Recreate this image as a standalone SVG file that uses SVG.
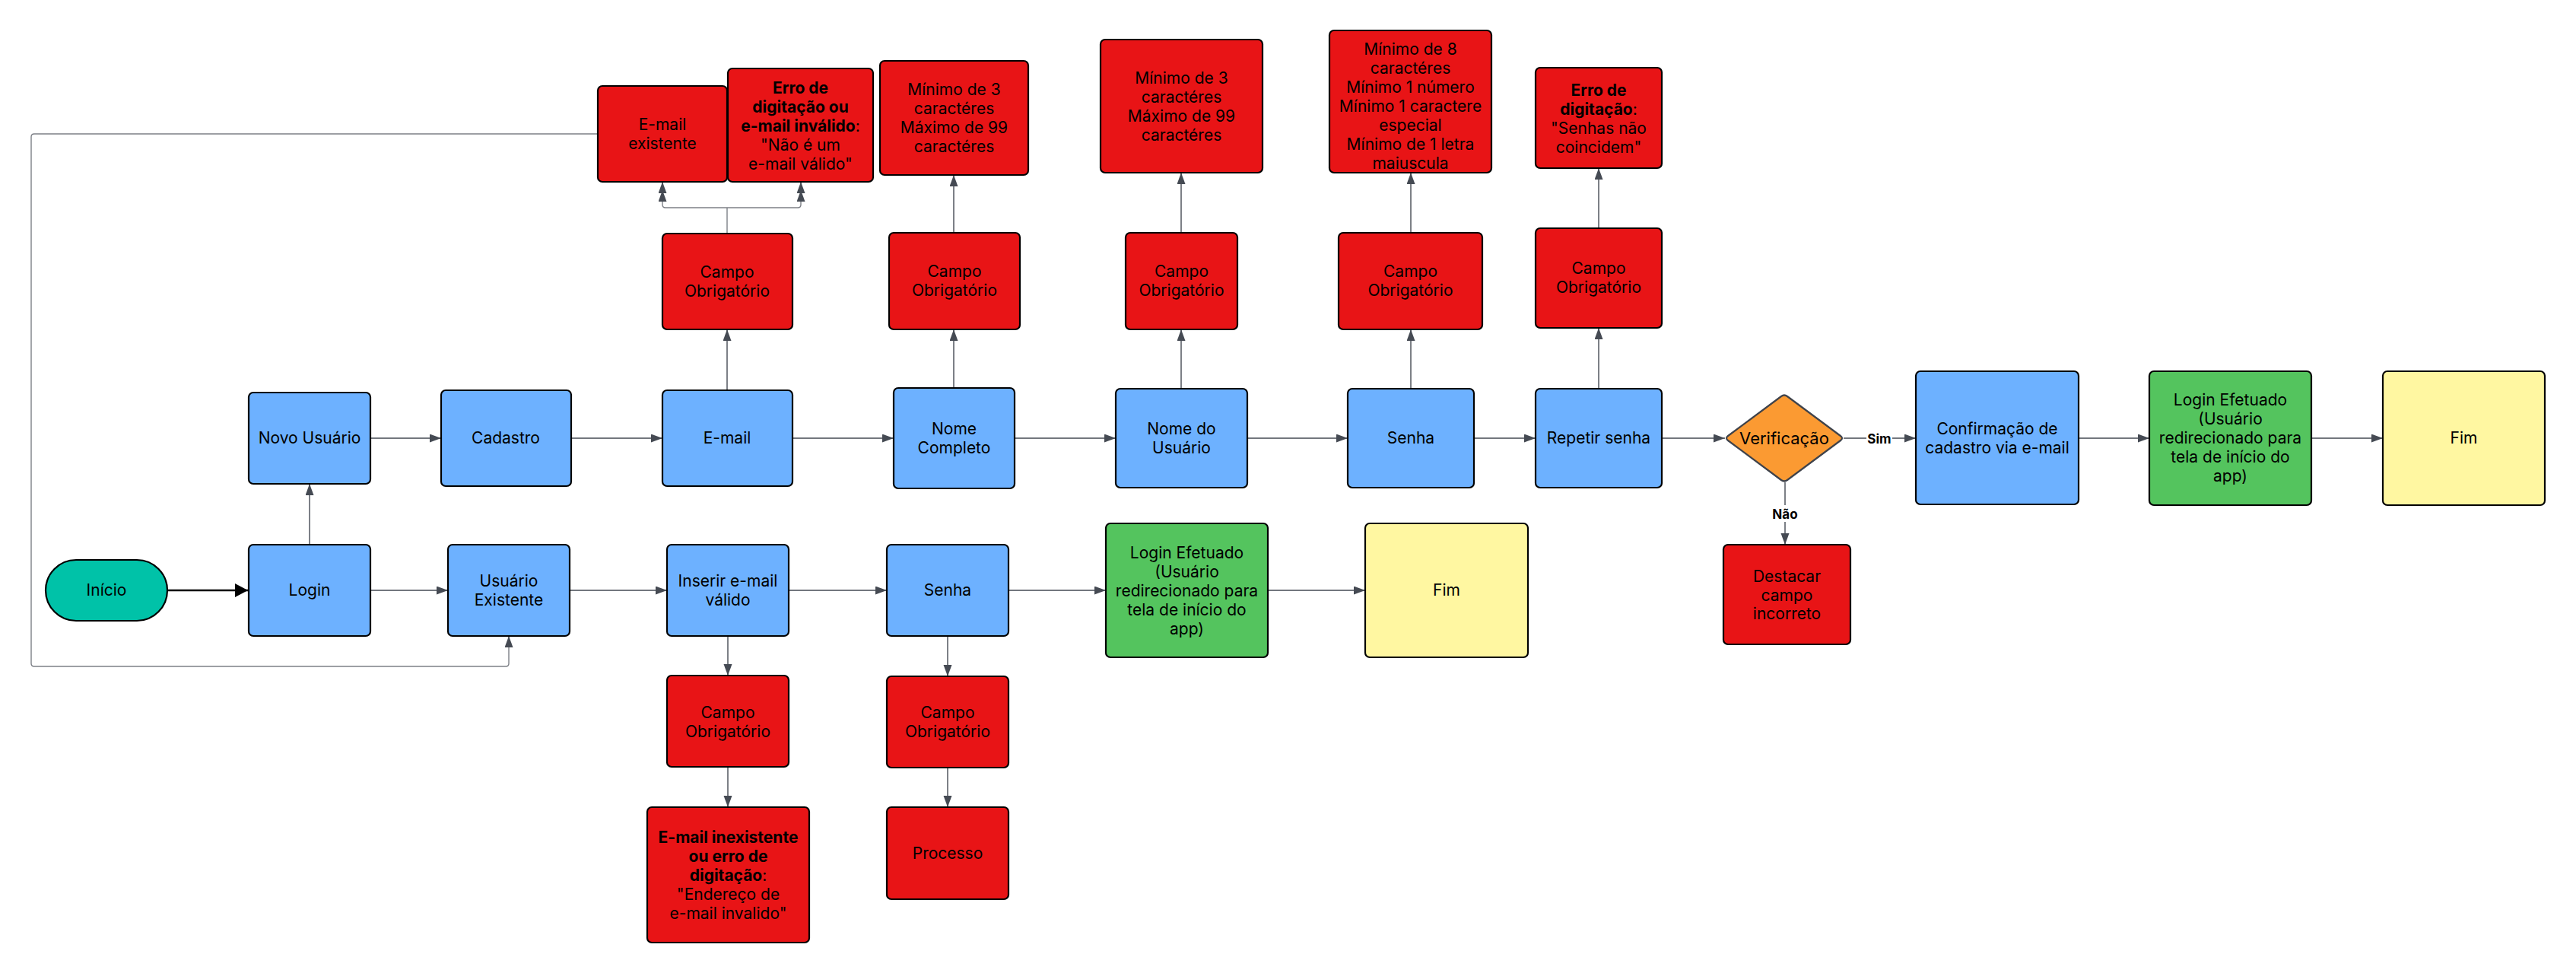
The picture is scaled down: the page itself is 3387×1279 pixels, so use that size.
<svg xmlns="http://www.w3.org/2000/svg" width="3387" height="1279" viewBox="0 0 3387 1279">
<defs>
<marker id="arr" markerUnits="userSpaceOnUse" markerWidth="16" markerHeight="12" refX="15" refY="5.5" orient="auto">
<path d="M0,0 L15,5.5 L0,11 z" fill="#454a53"/>
</marker>
<marker id="arrB" markerUnits="userSpaceOnUse" markerWidth="18" markerHeight="19" refX="17" refY="9" orient="auto">
<path d="M0,0 L17,9 L0,18 z" fill="#000"/>
</marker>
<style>
.n{stroke:#000;stroke-width:2.2}
.b{fill:#6DB1FF}
.r{fill:#E81416}
.g{fill:#54C45E}
.y{fill:#FFF7A1}
.t{fill:#00C2A8}
.o{fill:#FB9A32;stroke:#3f434b;stroke-width:2.2}
text{font-family:Inter,"Liberation Sans",sans-serif;font-size:21px;fill:#000;text-anchor:middle}
.bd{font-weight:700}
.rg{font-weight:400}
.c{fill:none;stroke:#454a53;stroke-width:1.4;marker-end:url(#arr)}
.cl{fill:none;stroke:#7d8087;stroke-width:1.4}
.lab{font-size:17px;font-weight:700}
</style>
</defs>
<rect width="3387" height="1279" fill="#fff"/>

<g id="connectors">
<path class="c" d="M220,776 L326,776" style="stroke:#000;stroke-width:2.4;marker-end:url(#arrB)"/>
<path class="c" d="M407,716 L407,636"/>
<path class="c" d="M487,776 L589,776"/>
<path class="c" d="M487,576 L580,576"/>
<path class="c" d="M751,576 L871,576"/>
<path class="c" d="M1042,576 L1175,576"/>
<path class="c" d="M1334,576 L1467,576"/>
<path class="c" d="M1640,576 L1772,576"/>
<path class="c" d="M1938,576 L2019,576"/>
<path class="c" d="M2185,576 L2268,576"/>
<path class="c" d="M2424,576 L2519,576"/>
<path class="c" d="M2733,576 L2826,576"/>
<path class="c" d="M3039,576 L3133,576"/>
<path class="c" d="M2347,634 L2347,716"/>
<path class="c" d="M956,513 L956,433"/>
<path class="cl" d="M956,307 L956,273"/>
<path class="cl" d="M956,273 L875,273 Q871,273 871,269 L871,250" style="marker-end:url(#arr)"/>
<path class="cl" d="M956,273 L1049,273 Q1053,273 1053,269 L1053,250" style="marker-end:url(#arr)"/>
<path class="c" d="M871,250 L871,239"/>
<path class="c" d="M1053,250 L1053,239"/>
<path class="c" d="M1254,510 L1254,433"/>
<path class="c" d="M1254,306 L1254,230"/>
<path class="c" d="M1553,511 L1553,433"/>
<path class="c" d="M1553,306 L1553,227"/>
<path class="c" d="M1855,511 L1855,433"/>
<path class="c" d="M1855,306 L1855,227"/>
<path class="c" d="M2102,511 L2102,431"/>
<path class="c" d="M2102,300 L2102,221"/>
<path class="c" d="M749,776 L877,776"/>
<path class="c" d="M1037,776 L1166,776"/>
<path class="c" d="M1326,776 L1454,776"/>
<path class="c" d="M1667,776 L1795,776"/>
<path class="c" d="M957,836 L957,888"/>
<path class="c" d="M957,1008 L957,1061"/>
<path class="c" d="M1246,836 L1246,889"/>
<path class="c" d="M1246,1009 L1246,1061"/>
<path class="cl" d="M786,176 L45,176 Q41,176 41,180 L41,872 Q41,876 45,876 L665,876 Q669,876 669,872 L669,850"/>
<path class="c" d="M669,850 L669,836"/>
<rect x="2454" y="565" width="34" height="22" fill="#fff"/>
<text class="lab" x="2471" y="583">Sim</text>
<rect x="2329" y="664" width="36" height="22" fill="#fff"/>
<text class="lab" x="2347" y="682">Não</text>
</g>

<g id="inicio"><rect class="n t" x="60" y="736" width="160" height="80" rx="40"/><text x="140" y="783">Início</text></g>
<g id="login"><rect class="n b" x="327" y="716" width="160" height="120" rx="6"/><text x="407" y="783">Login</text></g>
<g id="novo-usuario"><rect class="n b" x="327" y="516" width="160" height="120" rx="6"/><text x="407" y="583">Novo Usuário</text></g>
<g id="cadastro"><rect class="n b" x="580" y="513" width="171" height="126" rx="6"/><text x="665" y="583">Cadastro</text></g>
<g id="email"><rect class="n b" x="871" y="513" width="171" height="126" rx="6"/><text x="956" y="583">E-mail</text></g>
<g id="campo-email"><rect class="n r" x="871" y="307" width="171" height="126" rx="6"/><text x="956" y="364.5">Campo</text><text x="956" y="389.5">Obrigatório</text></g>
<g id="email-existente"><rect class="n r" x="786" y="113" width="170" height="126" rx="6"/><text x="871" y="170.5">E-mail</text><text x="871" y="195.5">existente</text></g>
<g id="erro-email"><rect class="n r" x="957" y="90" width="191" height="149" rx="6"/>
<text class="bd" x="1052.5" y="123">Erro de</text>
<text class="bd" x="1052.5" y="148">digitação ou</text>
<text class="bd" x="1052.5" y="173">e-mail inválido<tspan class="rg">:</tspan></text>
<text x="1052.5" y="198">"Não é um</text>
<text x="1052.5" y="223">e-mail válido"</text></g>

<g id="nome-completo"><rect class="n b" x="1175" y="510" width="159" height="132" rx="6"/><text x="1254.5" y="570.5">Nome</text><text x="1254.5" y="595.5">Completo</text></g>
<g id="campo-nome"><rect class="n r" x="1169" y="306" width="172" height="127" rx="6"/><text x="1255" y="364">Campo</text><text x="1255" y="389">Obrigatório</text></g>
<g id="min-nome"><rect class="n r" x="1157" y="80" width="195" height="150" rx="6"/>
<text x="1254.5" y="125">Mínimo de 3</text><text x="1254.5" y="150">caractéres</text><text x="1254.5" y="175">Máximo de 99</text><text x="1254.5" y="200">caractéres</text></g>

<g id="nome-usuario"><rect class="n b" x="1467" y="511" width="173" height="130" rx="6"/><text x="1553.5" y="570.5">Nome do</text><text x="1553.5" y="595.5">Usuário</text></g>
<g id="campo-usuario"><rect class="n r" x="1480" y="306" width="147" height="127" rx="6"/><text x="1553.5" y="364">Campo</text><text x="1553.5" y="389">Obrigatório</text></g>
<g id="min-usuario"><rect class="n r" x="1447" y="52" width="213" height="175" rx="6"/>
<text x="1553.5" y="109.5">Mínimo de 3</text><text x="1553.5" y="134.5">caractéres</text><text x="1553.5" y="159.5">Máximo de 99</text><text x="1553.5" y="184.5">caractéres</text></g>

<g id="senha"><rect class="n b" x="1772" y="511" width="166" height="130" rx="6"/><text x="1855" y="583">Senha</text></g>
<g id="campo-senha"><rect class="n r" x="1760" y="306" width="189" height="127" rx="6"/><text x="1854.5" y="364">Campo</text><text x="1854.5" y="389">Obrigatório</text></g>
<g id="min-senha"><rect class="n r" x="1748" y="40" width="213" height="187" rx="6"/>
<text x="1854.5" y="72">Mínimo de 8</text><text x="1854.5" y="97">caractéres</text><text x="1854.5" y="122">Mínimo 1 número</text><text x="1854.5" y="147">Mínimo 1 caractere</text><text x="1854.5" y="172">especial</text><text x="1854.5" y="197">Mínimo de 1 letra</text><text x="1854.5" y="222">maiuscula</text></g>

<g id="repetir-senha"><rect class="n b" x="2019" y="511" width="166" height="130" rx="6"/><text x="2102" y="583">Repetir senha</text></g>
<g id="campo-repetir"><rect class="n r" x="2019" y="300" width="166" height="131" rx="6"/><text x="2102" y="360">Campo</text><text x="2102" y="385">Obrigatório</text></g>
<g id="erro-senhas"><rect class="n r" x="2019" y="89" width="166" height="132" rx="6"/>
<text class="bd" x="2102" y="125.5">Erro de</text><text class="bd" x="2102" y="150.5">digitação<tspan class="rg">:</tspan></text><text x="2102" y="175.5">"Senhas não</text><text x="2102" y="200.5">coincidem"</text></g>

<g id="verificacao"><path class="o" d="M2342,521 Q2346,518 2350,521 L2420,573 Q2424,576 2420,579 L2350,631 Q2346,634 2342,631 L2272,579 Q2268,576 2272,573 Z"/><text x="2346" y="584" style="font-size:22px">Verificação</text></g>
<g id="confirmacao"><rect class="n b" x="2519" y="488" width="214" height="175" rx="6"/><text x="2626" y="570.5">Confirmação de</text><text x="2626" y="595.5">cadastro via e-mail</text></g>
<g id="login-efetuado-2"><rect class="n g" x="2826" y="488" width="213" height="176" rx="6"/>
<text x="2932.5" y="533">Login Efetuado</text><text x="2932.5" y="558">(Usuário</text><text x="2932.5" y="583">redirecionado para</text><text x="2932.5" y="608">tela de início do</text><text x="2932.5" y="633">app)</text></g>
<g id="fim-2"><rect class="n y" x="3133" y="488" width="213" height="176" rx="6"/><text x="3239.5" y="583">Fim</text></g>
<g id="destacar"><rect class="n r" x="2266" y="716" width="167" height="131" rx="6"/><text x="2349.5" y="765">Destacar</text><text x="2349.5" y="790">campo</text><text x="2349.5" y="814">incorreto</text></g>

<g id="usuario-existente"><rect class="n b" x="589" y="716" width="160" height="120" rx="6"/><text x="669" y="770.5">Usuário</text><text x="669" y="795.5">Existente</text></g>
<g id="inserir-email"><rect class="n b" x="877" y="716" width="160" height="120" rx="6"/><text x="957" y="770.5">Inserir e-mail</text><text x="957" y="795.5">válido</text></g>
<g id="campo-inserir"><rect class="n r" x="877" y="888" width="160" height="120" rx="6"/><text x="957" y="944">Campo</text><text x="957" y="969">Obrigatório</text></g>
<g id="email-inexistente"><rect class="n r" x="851" y="1061" width="213" height="178" rx="6"/>
<text class="bd" x="957.5" y="1108">E-mail inexistente</text><text class="bd" x="957.5" y="1133">ou erro de</text><text class="bd" x="957.5" y="1158">digitação<tspan class="rg">:</tspan></text><text x="957.5" y="1183">"Endereço de</text><text x="957.5" y="1208">e-mail invalido"</text></g>
<g id="senha-login"><rect class="n b" x="1166" y="716" width="160" height="120" rx="6"/><text x="1246" y="783">Senha</text></g>
<g id="campo-senha-login"><rect class="n r" x="1166" y="889" width="160" height="120" rx="6"/><text x="1246" y="944">Campo</text><text x="1246" y="969">Obrigatório</text></g>
<g id="processo"><rect class="n r" x="1166" y="1061" width="160" height="121" rx="6"/><text x="1246" y="1129">Processo</text></g>
<g id="login-efetuado-1"><rect class="n g" x="1454" y="688" width="213" height="176" rx="6"/>
<text x="1560.5" y="734">Login Efetuado</text><text x="1560.5" y="759">(Usuário</text><text x="1560.5" y="784">redirecionado para</text><text x="1560.5" y="809">tela de início do</text><text x="1560.5" y="834">app)</text></g>
<g id="fim-1"><rect class="n y" x="1795" y="688" width="214" height="176" rx="6"/><text x="1902" y="783">Fim</text></g>
</svg>
